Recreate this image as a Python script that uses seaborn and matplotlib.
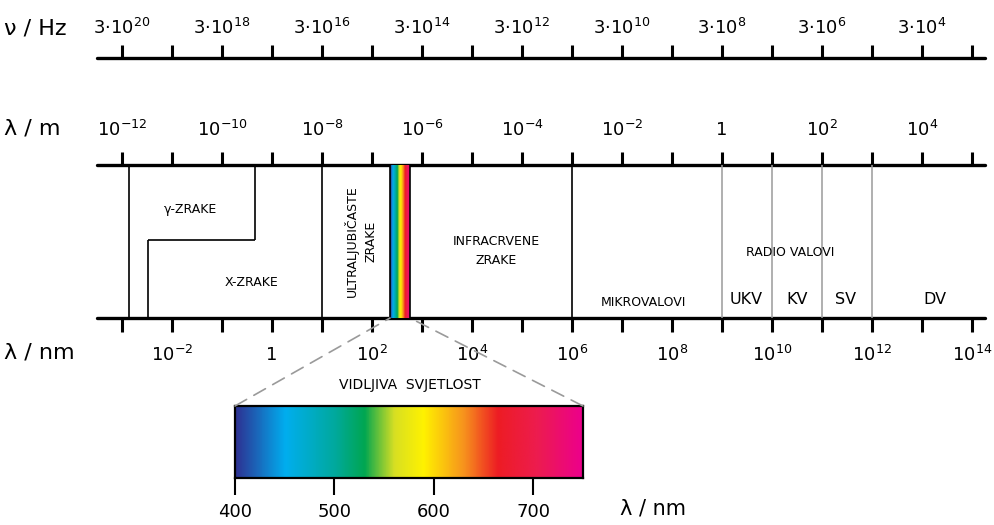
import matplotlib
matplotlib.use("Agg")
import matplotlib.pyplot as plt
from matplotlib.colors import LinearSegmentedColormap
from matplotlib.patches import ConnectionPatch
import numpy as np
import seaborn as sns

# decade ticks, x = log10(lambda / m)
decades = list(range(-12, 6))

freq_exp = [20, 18, 16, 14, 12, 10, 8, 6, 4]
freq_pos = [-12, -10, -8, -6, -4, -2, 0, 2, 4]
lam_m_exp = [-12, -10, -8, -6, -4, -2, 0, 2, 4]
lam_nm_exp = [-2, 0, 2, 4, 6, 8, 10, 12, 14]

# band borders (log10 lambda / m)
gamma_left = -11.86
xray_left = -11.48
gamma_step = -9.34
uv_left = -8.0
vis_band = [-6.64, -6.24]
ir_right = -3.0
radio_lines = [0, 1, 2, 3]

band_names = ["γ-ZRAKE", "X-ZRAKE", "INFRACRVENE\nZRAKE", "RADIO VALOVI",
              "MIKROVALOVI", "UKV", "KV", "SV", "DV"]
band_x = [-10.64, -9.4, -4.52, 1.36, -1.58, 0.48, 1.5, 2.48, 4.26]

# visible light zoom
vis_nm = [400, 450, 500, 530, 560, 590, 630, 665, 705, 750]
vis_colors = ["#2e3192", "#00aeef", "#00a99d", "#00a651", "#d7df23",
              "#fff200", "#f7941d", "#ed1c24", "#ed1c4f", "#ec008c"]
vis_ticks = [400, 500, 600, 700]

sns.set_style("white")
plt.rcParams["font.family"] = ["DejaVu Sans"]
plt.rcParams["mathtext.default"] = "regular"
plt.rcParams["text.color"] = "black"
plt.rcParams["xtick.color"] = "black"
plt.rcParams["xtick.labelcolor"] = "black"

cmap = LinearSegmentedColormap.from_list(
    "vis", [((n - 400) / 350, c) for n, c in zip(vis_nm, vis_colors)])

fig = plt.figure(figsize=(9.95, 5.25), dpi=100)
ax = fig.add_axes([0, 0, 1, 1])
ax.set_xlim(-12 - 122 / 50, -12 + (995 - 122) / 50)
ax.set_ylim(525, 0)
ax.axis("off")

y_freq, y_m, y_nm = 58, 165, 318
x0, x1 = -12.5, 5.26

# three scales
for y in [y_freq, y_m, y_nm]:
    sns.lineplot(x=[x0, x1], y=[y, y], ax=ax, color="black", lw=2.4)
ax.vlines(decades, y_freq - 13, y_freq, color="black", lw=2.2)
ax.vlines(decades, y_m - 13, y_m, color="black", lw=2.2)
ax.vlines(decades, y_nm, y_nm + 14, color="black", lw=2.2)

for p, e in zip(freq_pos, freq_exp):
    ax.text(p, 28, rf"$3{{\cdot}}10^{{{e}}}$", ha="center", va="center", fontsize=13)
for e in lam_m_exp:
    lab = "1" if e == 0 else rf"$10^{{{e}}}$"
    ax.text(e, 130, lab, ha="center", va="center", fontsize=13)
for e in lam_nm_exp:
    lab = "1" if e == 0 else rf"$10^{{{e}}}$"
    ax.text(e - 9, 355, lab, ha="center", va="center", fontsize=13)

ax.text(-14.35, 28, "ν / Hz", ha="left", va="center", fontsize=16)
ax.text(-14.35, 128, "λ / m", ha="left", va="center", fontsize=16)
ax.text(-14.35, 352, "λ / nm", ha="left", va="center", fontsize=16)

# band borders
kw = dict(color="black", lw=1.2)
ax.vlines([gamma_left, uv_left, ir_right], y_m, y_nm, **kw)
ax.vlines(gamma_step, y_m, 240, **kw)
ax.hlines(240, xray_left, gamma_step, **kw)
ax.vlines(xray_left, 240, y_nm, **kw)
ax.vlines(radio_lines, y_m, y_nm, color="#9a9a9a", lw=1.1)

# narrow visible band
ax.imshow(np.linspace(0, 1, 200)[None, :], cmap=cmap, aspect="auto",
          extent=[vis_band[0], vis_band[1], y_nm, y_m], zorder=2)
ax.vlines(vis_band, y_m, y_nm, color="black", lw=1.2, zorder=3)

ax.text(band_x[0], 210, band_names[0], ha="center", va="center", fontsize=9)
ax.text(band_x[1], 282, band_names[1], ha="center", va="center", fontsize=9)
ax.text(band_x[2], 251, band_names[2], ha="center", va="center", fontsize=9,
        linespacing=1.6)
ax.text(band_x[3], 253, band_names[3], ha="center", va="center", fontsize=9)
ax.text(band_x[4], 302, band_names[4], ha="center", va="center", fontsize=9)
for name, x in zip(band_names[5:], band_x[5:]):
    ax.text(x, 300, name, ha="center", va="center", fontsize=11.5)
ax.text(-7.22, 241, "ULTRALJUBIČASTE\nZRAKE", ha="center", va="center",
        rotation=90, fontsize=9, linespacing=1.6)

# zoomed visible spectrum
ax2 = fig.add_axes([235 / 995, 1 - 478 / 525, 348 / 995, 72 / 525])
ax2.imshow(np.linspace(0, 1, 500)[None, :], cmap=cmap, aspect="auto",
           extent=[400, 750, 0, 1])
ax2.set_xlim(400, 750)
ax2.set_ylim(0, 1)
ax2.set_yticks([])
ax2.set_xticks(vis_ticks)
ax2.tick_params(axis="x", direction="out", length=12, width=1.5, pad=6,
                labelsize=13, bottom=True, color="black", labelcolor="black")
for s in ax2.spines.values():
    s.set_color("black")
    s.set_linewidth(1.6)
ax.text(-2.04, 508, "λ / nm", ha="left", va="center", fontsize=15)
ax.text(-6.24, 385, "VIDLJIVA  SVJETLOST", ha="center", va="center", fontsize=10)

for xa, xm in [(400, vis_band[0]), (750, vis_band[1])]:
    con = ConnectionPatch(xyA=(xa, 1), coordsA=ax2.transData,
                          xyB=(xm, y_nm), coordsB=ax.transData,
                          color="#9a9a9a", lw=1.2, ls=(0, (8, 5)))
    fig.add_artist(con)

fig.savefig("out.png", dpi=100)
